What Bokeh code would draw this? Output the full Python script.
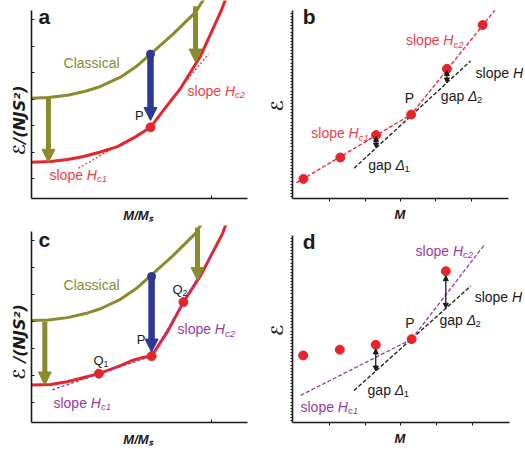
from math import pi
import numpy as np
from bokeh.plotting import figure
from bokeh.models import Range1d, FixedTicker, Label, Arrow, NormalHead
from bokeh.layouts import gridplot
from bokeh.embed import file_html
from bokeh.resources import INLINE

# ---------------- data ----------------
# panels a / c : energy vs M/Ms (schematic)
classical_x = [0, 0.094, 0.2, 0.3, 0.383, 0.494, 0.58, 0.661, 0.786, 0.911, 0.96]
classical_y = [4.04, 4.06, 4.15, 4.3, 4.48, 4.83, 5.22, 5.70, 6.45, 7.28, 7.8]

red_a_x = [0, 0.106, 0.2, 0.289, 0.378, 0.478, 0.567, 0.661, 0.744, 0.828, 0.939, 1.05, 1.08]
red_a_y = [1.62, 1.65, 1.73, 1.84, 2.0, 2.21, 2.54, 2.94, 3.68, 4.41, 5.63, 7.28, 7.8]
tan1_a_x = [0.261, 0.467]
tan1_a_y = [1.40, 2.21]
tan2_a_x = [0.839, 0.983]
tan2_a_y = [4.52, 5.70]
p_a = (0.661, 2.94)
blue_a = (0.661, 5.70, 3.2)          # x, start y, tip y
olive_a = [(0.094, 4.04, 1.62), (0.911, 7.5, 5.4)]

red_c_x = [0, 0.106, 0.198, 0.291, 0.374, 0.476, 0.569, 0.624, 0.667, 0.756, 0.844, 0.939, 1.061, 1.09]
red_c_y = [1.65, 1.67, 1.77, 1.93, 2.07, 2.32, 2.58, 2.68, 2.72, 3.64, 4.73, 5.71, 7.27, 7.8]
dots_c_x = [0.374, 0.667, 0.844]      # Q1, P, Q2
dots_c_y = [2.07, 2.72, 4.73]
hc1_c_x = [0.115, 0.667]
hc1_c_y = [1.47, 2.72]
hc2_c_x = [0.667, 1.022]
hc2_c_y = [2.72, 6.75]
blue_c = (0.667, 5.68, 2.87)
olive_c = [(0.074, 4.0, 1.65), (0.922, 7.5, 5.53)]

# panel b : energy vs M
b_dots_x = [0.26, 1.30, 2.31, 3.30, 4.31, 5.32]
b_dots_y = [1.04, 2.18, 3.37, 4.46, 6.89, 9.22]
b_fit_x = [0.06, 3.30, 5.66]
b_fit_y = [0.83, 4.46, 10.0]
b_H_x = [1.69, 4.98]
b_H_y = [1.61, 7.31]
b_gap_x = [2.31, 4.31]
b_gap_top = [3.30, 6.80]
b_gap_bot = [2.68, 6.14]

# panel d
d_dots_x = [0.25, 1.28, 2.29, 3.30, 4.26]
d_dots_y = [3.58, 3.89, 4.15, 4.45, 8.08]
d_hc1_x = [0.18, 3.30]
d_hc1_y = [1.45, 4.45]
d_hc2_x = [3.30, 5.34]
d_hc2_y = [4.45, 9.48]
d_H_x = [1.68, 4.96]
d_H_y = [1.71, 7.29]
d_gap_x = [2.29, 4.26]
d_gap_top = [3.93, 7.84]
d_gap_bot = [2.75, 6.10]

# ---------------- styles ----------------
FONT = "Liberation Sans"
LFONT = "DejaVu Sans"
NB = "\u00a0"
BLANK = "\u2800"
RED = "#e4262c"
RED_T = "#e8414a"
OLIVE = "#8a8a2e"
BLUE = "#2b3990"
PURPLE = "#9b3aa0"
BLACK = "#1a1a1a"

W = {' ': 278, 's': 500, 'l': 222, 'o': 556, 'p': 556, 'e': 556, 'g': 556, 'a': 556,
     'H': 722, 'c': 500, '1': 556, '2': 556, 'Δ': 640, 'Q': 778, 'M': 833, '/': 278, 'P': 667}


def tw(t, size):
    return sum(W.get(ch, 556) for ch in t) * size / 1000.0


def rich(p, x, y, parts, color, size=14):
    """parts: list of (text, kind); kind: n normal, i italic, s italic subscript,
    ns normal subscript"""
    subs = ("s", "ns")
    off = 0
    for t, k in parts:
        sz = size * 0.68 if k in subs else size
        style = {"n": "normal", "i": "italic", "s": "italic", "ns": "normal"}[k]
        yo = -size * 0.28 if k in subs else 0
        p.add_layout(Label(x=x, y=y, x_offset=off, y_offset=yo, text=t,
                           text_font=FONT, text_font_size=f"{sz:.1f}px",
                           text_font_style=style, text_color=color,
                           text_align="left", text_baseline="alphabetic"))
        off += tw(t, sz)


def make_fig(w, h, xr, yr, bl, bb, xb, yb):
    p = figure(width=w, height=h, x_range=Range1d(*xr), y_range=Range1d(*yr),
               output_backend="svg", toolbar_location=None, tools="",
               min_border_left=bl, min_border_right=0,
               min_border_top=0, min_border_bottom=bb)
    p.grid.visible = False
    p.outline_line_color = None
    p.xaxis.bounds = xb
    p.yaxis.bounds = yb
    for ax in (p.xaxis[0], p.yaxis[0]):
        ax.axis_line_color = BLACK
        ax.axis_line_width = 1.6
        ax.major_tick_in = 0
        ax.major_tick_out = 0
        ax.major_label_standoff = 0
        ax.minor_tick_line_color = BLACK
        ax.minor_tick_line_width = 1.1
        ax.axis_label_text_font = FONT
        ax.axis_label_text_font_style = "bold italic"
        ax.axis_label_text_color = BLACK
    p.yaxis.axis_label_text_font = LFONT
    return p


def arrow(p, x, y0, y1, color, lw, hs, both=False, level=None):
    kw = {}
    if both:
        kw["start"] = NormalHead(size=hs, fill_color=color, line_color=color, line_width=1)
    a = Arrow(end=NormalHead(size=hs, fill_color=color, line_color=color, line_width=1),
              x_start=x, y_start=y0, x_end=x, y_end=y1,
              line_color=color, line_width=lw, **kw)
    if level:
        a.level = level
    p.add_layout(a)


def energy_panel(h, bb, yr, yb, letter, red_x, red_y, blue, olive, ylabel):
    p = make_fig(262, h, (0, 1.283), yr, 31, bb, (0, 1.2), yb)
    p.xaxis.ticker = FixedTicker(ticks=[], minor_ticks=[1.0])
    p.yaxis.ticker = FixedTicker(ticks=[], minor_ticks=[1, 2, 3, 4, 5, 6, 7])
    for ax in (p.xaxis[0], p.yaxis[0]):
        ax.minor_tick_in = 3
        ax.minor_tick_out = 0
    p.xaxis.axis_label = "M/Mₛ" + NB * 5
    p.xaxis.axis_label_text_font_size = "13px"
    p.xaxis.axis_label_standoff = 9
    p.yaxis.axis_label = ylabel
    p.yaxis.axis_label_text_font_size = "16px"
    p.yaxis.axis_label_standoff = 3
    p.line(classical_x, classical_y, line_color=OLIVE, line_width=3, line_join="round")
    p.line(red_x, red_y, line_color=RED, line_width=3, line_join="round")
    for (x, y0, y1) in olive:
        arrow(p, x, y0, y1, OLIVE, 5, 13)
    bx, by0, by1 = blue
    arrow(p, bx, by0, by1, BLUE, 6.5, 13)
    p.scatter([bx], [by0], size=8, color=BLUE)
    p.add_layout(Label(x=0.039, y=6.69 if letter == "a" else 6.62, text=letter,
                       text_font=FONT, text_font_size="21px", text_font_style="bold",
                       text_color=BLACK))
    p.add_layout(Label(x=0.178, y=5.07, text="Classical", text_font=FONT,
                       text_font_size="14px", text_color=OLIVE))
    return p


# ---------------- panel a ----------------
pa = energy_panel(225, 22, (0.257, 7.72), (0.257, 7.35), "a", red_a_x, red_a_y,
                  blue_a, olive_a, "ℰ/(NJS²)" + NB * 3 + BLANK * 2)
pa.line(tan1_a_x, tan1_a_y, line_color=RED, line_width=1.2, line_dash="2 2")
pa.line(tan2_a_x, tan2_a_y, line_color=RED, line_width=1.2, line_dash="2 2")
pa.scatter([p_a[0]], [p_a[1]], size=9, color=RED)
pa.add_layout(Label(x=0.575, y=3.09, text="P", text_font=FONT, text_font_size="13px",
                    text_color=BLACK))
rich(pa, 0.867, 4.31, [("slope ", "n"), ("H", "i"), ("c2", "s")], RED_T)
rich(pa, 0.1, 1.14, [("slope ", "n"), ("H", "i"), ("c1", "s")], RED_T)

# ---------------- panel c ----------------
pc = energy_panel(224, 25, (0.257, 7.57), (0.257, 7.33), "c", red_c_x, red_c_y,
                  blue_c, olive_c, "ℰ" + NB + "/(NJS²)" + NB * 2 + BLANK * 2)
pc.line(hc1_c_x, hc1_c_y, line_color=PURPLE, line_width=1.3, line_dash="3 2")
pc.line(hc2_c_x, hc2_c_y, line_color=PURPLE, line_width=1.3, line_dash="3 2")
pc.scatter(dots_c_x, dots_c_y, size=9, color=RED)
rich(pc, 0.344, 2.55, [("Q", "n"), ("1", "ns")], BLACK, size=13)
pc.add_layout(Label(x=0.585, y=3.05, text="P", text_font=FONT, text_font_size="13px",
                    text_color=BLACK))
rich(pc, 0.783, 5.2, [("Q", "n"), ("2", "ns")], BLACK, size=13)
rich(pc, 0.811, 3.71, [("slope ", "n"), ("H", "i"), ("c2", "s")], PURPLE)
rich(pc, 0.122, 0.98, [("slope ", "n"), ("H", "i"), ("c1", "s")], PURPLE)


def m_panel(h, bl, bb, xr, yr, letter):
    p = make_fig(263, h, xr, yr, bl, bb, (-0.05, 6.05), (0, 10))
    p.xaxis.ticker = FixedTicker(ticks=[], minor_ticks=[1, 2, 3, 4, 5])
    p.yaxis.ticker = FixedTicker(ticks=[], minor_ticks=list(np.arange(0.1, 10, 0.165)))
    p.xaxis.minor_tick_in = 0
    p.xaxis.minor_tick_out = 3
    p.yaxis.minor_tick_in = 0
    p.yaxis.minor_tick_out = 2
    p.xaxis.axis_label = "M" + NB * 5
    p.xaxis.axis_label_text_font_size = "13px"
    p.xaxis.axis_label_standoff = 5
    p.yaxis.axis_label = "ℰ" + BLANK
    p.yaxis.axis_label_text_font_size = "16px"
    p.yaxis.axis_label_standoff = 4
    p.add_layout(Label(x=0.24, y=9.07, text=letter, text_font=FONT, text_font_size="21px",
                       text_font_style="bold", text_color=BLACK))
    return p


# ---------------- panel b ----------------
pb = m_panel(225, 29, 22, (-0.05, 6.53), (0, 10.52), "b")
pb.line(b_fit_x, b_fit_y, line_color=RED, line_width=1.3, line_dash="4 2")
pb.line(b_H_x, b_H_y, line_color=BLACK, line_width=1.3, line_dash="4 2")
for gx, gt, gb in zip(b_gap_x, b_gap_top, b_gap_bot):
    arrow(pb, gx, gt, gb, BLACK, 1.3, 5, both=True, level="glyph")
pb.scatter(b_dots_x, b_dots_y, size=9, color=RED)
rich(pb, 3.155, 8.41, [("slope ", "n"), ("H", "i"), ("c2", "s")], RED_T)
rich(pb, 5.12, 6.68, [("slope ", "n"), ("H", "i")], BLACK)
rich(pb, 4.14, 5.45, [("gap ", "n"), ("Δ", "i"), ("2", "ns")], BLACK)
pb.add_layout(Label(x=3.12, y=4.92, text="P", text_font=FONT, text_font_size="14px",
                    text_color=BLACK))
rich(pb, 0.48, 3.47, [("slope ", "n"), ("H", "i"), ("c1", "s")], RED_T)
rich(pb, 2.09, 1.78, [("gap ", "n"), ("Δ", "i"), ("1", "ns")], BLACK)

# ---------------- panel d ----------------
pd = m_panel(224, 30, 23, (-0.05, 6.50), (0, 10.52), "d")
pd.line(d_hc1_x, d_hc1_y, line_color=PURPLE, line_width=1.3, line_dash="4 2")
pd.line(d_hc2_x, d_hc2_y, line_color=PURPLE, line_width=1.3, line_dash="4 2")
pd.line(d_H_x, d_H_y, line_color=BLACK, line_width=1.3, line_dash="4 2")
for gx, gt, gb in zip(d_gap_x, d_gap_top, d_gap_bot):
    arrow(pd, gx, gt, gb, BLACK, 1.3, 5, both=True, level="glyph")
pd.scatter(d_dots_x, d_dots_y, size=9, color=RED)
rich(pd, 3.41, 9.16, [("slope ", "n"), ("H", "i"), ("c2", "s")], PURPLE)
rich(pd, 5.07, 6.70, [("slope ", "n"), ("H", "i")], BLACK)
rich(pd, 4.08, 5.45, [("gap ", "n"), ("Δ", "i"), ("2", "ns")], BLACK)
pd.add_layout(Label(x=3.12, y=4.87, text="P", text_font=FONT, text_font_size="14px",
                    text_color=BLACK))
rich(pd, 2.06, 1.73, [("gap ", "n"), ("Δ", "i"), ("1", "ns")], BLACK)
rich(pd, 0.175, 0.84, [("slope ", "n"), ("H", "i"), ("c1", "s")], PURPLE)

grid = gridplot([[pa, pb], [pc, pd]], toolbar_location=None)
open("out.html", "w").write(file_html(grid, INLINE))
